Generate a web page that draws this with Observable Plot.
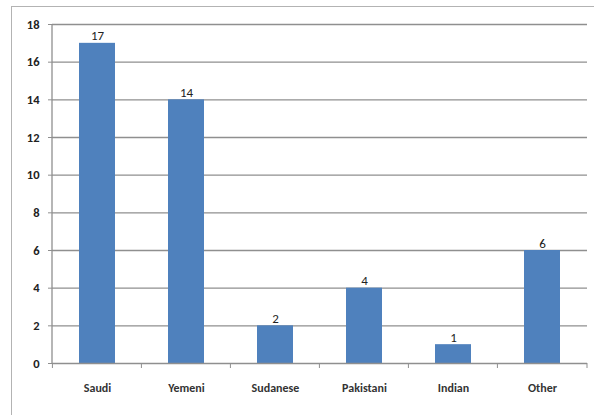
<!DOCTYPE html>
<html>
<head>
<meta charset="utf-8">
<script src="https://cdn.jsdelivr.net/npm/d3@7"></script>
<script src="https://cdn.jsdelivr.net/npm/@observablehq/plot@0.6"></script>
<style>
  html, body { margin: 0; padding: 0; background: #fff; }
  #wrap { position: relative; width: 594px; height: 415px; overflow: hidden; }
  #frame { position: absolute; left: 11px; top: 6px; width: 590px; height: 430px; border: 1px solid #b3b3b3; box-sizing: border-box; pointer-events: none; }
</style>
</head>
<body>
<div id="wrap"><div id="chart"></div><div id="frame"></div></div>
<script>
const categories = ["Saudi", "Yemeni", "Sudanese", "Pakistani", "Indian", "Other"];
const values = [17, 14, 2, 4, 1, 6];
const yTicks = [0, 2, 4, 6, 8, 10, 12, 14, 16, 18];

const data = categories.map((c, i) => ({category: c, value: values[i]}));

const W = 594, H = 415, mL = 52, mR = 7, mT = 24, mB = 52;
const step = (W - mL - mR) / categories.length;
const font = "Carlito, Lato, 'Open Sans', sans-serif";

const chart = Plot.plot({
  width: W,
  height: H,
  marginLeft: mL,
  marginRight: mR,
  marginTop: mT,
  marginBottom: mB,
  style: {fontFamily: font, fontSize: "12px", color: "#222", background: "transparent"},
  x: {domain: categories, paddingInner: 0.6, paddingOuter: 0.3, label: null},
  y: {domain: [0, 18], label: null},
  marks: [
    Plot.gridY(yTicks.filter(d => d > 0), {stroke: "#8f8f8f", strokeOpacity: 1, strokeWidth: 1.3}),
    Plot.axisY(yTicks, {tickSize: 4, tickPadding: 9, stroke: "#8f8f8f", fontWeight: "bold", fontSize: 12.5, fill: "#222"}),
    Plot.barY(data, {x: "category", y: "value", fill: "#4f81bd"}),
    Plot.ruleY([0], {stroke: "#8f8f8f", strokeWidth: 1.3}),
    Plot.text(data, {x: "category", y: "value", text: d => String(d.value), lineAnchor: "bottom", dy: -3, fontSize: 13, fill: "#222"}),
    Plot.axisX({tickSize: 0, tickPadding: 20, fontSize: 12, fontWeight: "bold", fill: "#333"})
  ]
});

document.getElementById("chart").appendChild(chart);

const svg = d3.select(chart);
const x = chart.scale("x");
const y = chart.scale("y");
const y0 = y.apply(0);
const yTop = y.apply(18);
// y axis line
svg.append("line")
  .attr("stroke", "#8f8f8f").attr("stroke-width", 1.3)
  .attr("x1", mL).attr("x2", mL)
  .attr("y1", yTop).attr("y2", y0);
// category boundary ticks below the x axis line
const bounds = categories.map(c => x.apply(c) - (step - x.bandwidth) / 2);
bounds.push(W - mR);
svg.append("g")
  .attr("stroke", "#8f8f8f")
  .selectAll("line")
  .data(bounds)
  .join("line")
  .attr("x1", d => d).attr("x2", d => d)
  .attr("y1", y0).attr("y2", y0 + 5);
</script>
</body>
</html>
